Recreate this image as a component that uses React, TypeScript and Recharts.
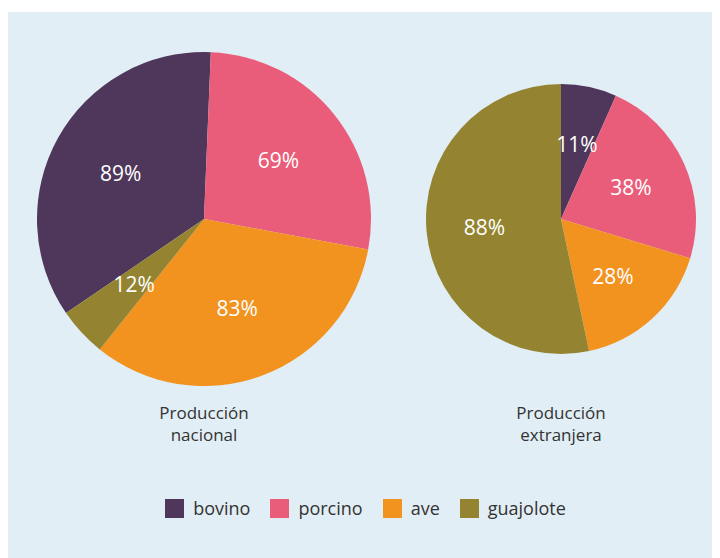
import { PieChart, Pie, Cell, Legend } from 'recharts'

const categories = ['bovino', 'porcino', 'ave', 'guajolote']
const colors = ['#4e375a', '#e95d7a', '#f2921f', '#948431']
const nacional = [89, 69, 83, 12]
const extranjera = [11, 38, 28, 88]
const captions = [['Producción', 'nacional'], ['Producción', 'extranjera']]

const FONT = '"Open Sans", sans-serif'
const RAD = Math.PI / 180

const toData = (values: number[]) =>
  categories.map((name, i) => ({ name, value: values[i] }))

const renderLabel = (props: any) => {
  const { cx, cy, midAngle, outerRadius, value } = props
  const r = outerRadius * 0.57
  const x = cx + r * Math.cos(-midAngle * RAD)
  const y = cy + r * Math.sin(-midAngle * RAD)
  return (
    <text x={x} y={y} fill="#fff" fontSize={21} fontFamily={FONT} textAnchor="middle" dominantBaseline="central">
      {value}%
    </text>
  )
}

const LegendContent = () => (
  <div style={{ display: 'flex', justifyContent: 'center', fontFamily: FONT, fontSize: 18, color: '#333' }}>
    {categories.map((c, i) => (
      <div key={c} style={{ display: 'flex', alignItems: 'center', marginRight: i < 3 ? 20 : 0 }}>
        <span style={{ width: 19, height: 19, background: colors[i], display: 'inline-block', marginRight: 9 }} />
        <span>{c}</span>
      </div>
    ))}
  </div>
)

export default function App() {
  // chart margin is 5px, so centers are given inside it
  const pies = [
    { data: toData(nacional), cx: 192, r: 167, start: 214.3 },
    { data: toData(extranjera), cx: 549, r: 135, start: 90 },
  ]
  return (
    <div style={{ position: 'relative', width: 713, height: 546, marginLeft: -1, marginTop: 4, background: '#e2eef5' }}>
      <PieChart width={713} height={546}>
        {pies.map((p, k) => (
          <Pie
            key={k}
            data={p.data}
            dataKey="value"
            nameKey="name"
            cx={p.cx}
            cy={202}
            outerRadius={p.r}
            startAngle={p.start}
            endAngle={p.start - 360}
            stroke="none"
            label={renderLabel}
            labelLine={false}
            isAnimationActive={false}
          >
            {p.data.map((d, i) => (
              <Cell key={d.name} fill={colors[i]} />
            ))}
          </Pie>
        ))}
        <Legend content={<LegendContent />} wrapperStyle={{ position: 'absolute', top: 484, left: 2, width: 713 }} />
      </PieChart>
      {captions.map((lines, k) => (
        <div
          key={k}
          style={{
            position: 'absolute',
            left: (k === 0 ? 197 : 554) - 80,
            top: 390,
            width: 160,
            textAlign: 'center',
            fontFamily: FONT,
            fontSize: 17,
            lineHeight: '22px',
            color: '#333',
          }}
        >
          {lines[0]}
          <br />
          {lines[1]}
        </div>
      ))}
    </div>
  )
}
